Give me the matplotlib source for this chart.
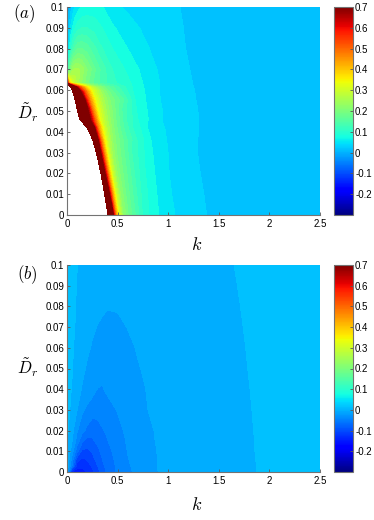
import numpy as np
import matplotlib
matplotlib.use("Agg")
import matplotlib.pyplot as plt
from matplotlib import cm, colors

plt.rcParams['font.family'] = ['Liberation Sans', 'DejaVu Sans']
plt.rcParams['mathtext.fontset'] = 'cm'

# ---------------- data ----------------
x_ticks = [0, 0.5, 1, 1.5, 2, 2.5]
x_tick_labels = ["0", "0.5", "1", "1.5", "2", "2.5"]
y_ticks = [0, 0.01, 0.02, 0.03, 0.04, 0.05, 0.06, 0.07, 0.08, 0.09, 0.1]
y_tick_labels = ["0", "0.01", "0.02", "0.03", "0.04", "0.05", "0.06", "0.07", "0.08", "0.09", "0.1"]
cbar_ticks = [-0.2, -0.1, 0, 0.1, 0.2, 0.3, 0.4, 0.5, 0.6, 0.7]
cbar_tick_labels = ["-0.2", "-0.1", "0", "0.1", "0.2", "0.3", "0.4", "0.5", "0.6", "0.7"]

# panel (a): rows of D_r, the edge of the blank region (k) per row,
# and value samples at distances (in k) from that edge
D_a = [0, 0.01, 0.02, 0.03, 0.036, 0.042, 0.046, 0.051, 0.0555, 0.0595,
       0.0615, 0.0635, 0.07, 0.08, 0.09, 0.1]
edge_a = [0.405, 0.372, 0.335, 0.29, 0.255, 0.2, 0.125, 0.1, 0.08, 0.055,
          0.035, 0.0, 0.0, 0.0, 0.0, 0.0]
offsets_a = [0, 0.02, 0.04, 0.06, 0.08, 0.11, 0.15, 0.2, 0.27, 0.35, 0.45,
             0.6, 0.8, 1.0, 1.3, 1.7, 2.1, 2.6]
V_a = [
    [2.0, 1.2, 0.85, 0.6, 0.45, 0.31, 0.225, 0.185, 0.145, 0.1, 0.073, 0.05, 0.034, 0.0237, 0.017, 0.0135, 0.011, 0.009],
    [2.0, 1.15, 0.75, 0.57, 0.44, 0.31, 0.23, 0.19, 0.15, 0.108, 0.077, 0.05, 0.034, 0.024, 0.017, 0.0135, 0.011, 0.009],
    [2.0, 1.0, 0.68, 0.55, 0.43, 0.31, 0.235, 0.195, 0.158, 0.115, 0.082, 0.051, 0.035, 0.024, 0.017, 0.0135, 0.011, 0.009],
    [2.0, 1.05, 0.7, 0.56, 0.45, 0.33, 0.25, 0.205, 0.168, 0.125, 0.09, 0.055, 0.0365, 0.025, 0.0177, 0.0136, 0.0112, 0.0091],
    [2.0, 1.2, 0.8, 0.62, 0.5, 0.37, 0.28, 0.22, 0.18, 0.14, 0.1, 0.058, 0.038, 0.026, 0.018, 0.0138, 0.0113, 0.0091],
    [2.0, 1.4, 1.0, 0.78, 0.62, 0.46, 0.34, 0.26, 0.2, 0.15, 0.105, 0.064, 0.041, 0.028, 0.019, 0.014, 0.0115, 0.0092],
    [2.0, 1.5, 1.15, 0.95, 0.8, 0.66, 0.5, 0.33, 0.25, 0.19, 0.13, 0.077, 0.046, 0.032, 0.020, 0.0146, 0.012, 0.0096],
    [2.0, 1.5, 1.15, 0.95, 0.8, 0.66, 0.48, 0.34, 0.255, 0.2, 0.14, 0.079, 0.048, 0.033, 0.0205, 0.0147, 0.012, 0.0096],
    [2.0, 1.4, 1.1, 0.9, 0.77, 0.6, 0.45, 0.33, 0.255, 0.2, 0.16, 0.081, 0.048, 0.033, 0.0206, 0.0148, 0.012, 0.0096],
    [2.0, 1.2, 0.9, 0.77, 0.67, 0.55, 0.43, 0.32, 0.25, 0.19, 0.14, 0.084, 0.05, 0.034, 0.021, 0.015, 0.012, 0.0096],
    [2.0, 1.0, 0.8, 0.68, 0.58, 0.48, 0.39, 0.3, 0.23, 0.175, 0.135, 0.087, 0.051, 0.035, 0.021, 0.015, 0.012, 0.0097],
    [0.7, 0.42, 0.34, 0.3, 0.28, 0.25, 0.22, 0.19, 0.16, 0.135, 0.11, 0.09, 0.056, 0.037, 0.022, 0.0155, 0.0124, 0.0099],
    [0.1, 0.16, 0.21, 0.24, 0.25, 0.25, 0.235, 0.205, 0.17, 0.135, 0.105, 0.08, 0.053, 0.035, 0.021, 0.0155, 0.0125, 0.0098],
    [0.03, 0.06, 0.1, 0.13, 0.15, 0.165, 0.165, 0.155, 0.13, 0.105, 0.085, 0.065, 0.046, 0.031, 0.0205, 0.015, 0.012, 0.0096],
    [0.0, 0.025, 0.05, 0.07, 0.085, 0.098, 0.105, 0.105, 0.097, 0.085, 0.068, 0.052, 0.04, 0.03, 0.02, 0.0148, 0.012, 0.0096],
    [-0.02, 0.0, 0.02, 0.035, 0.047, 0.058, 0.066, 0.071, 0.073, 0.066, 0.05, 0.042, 0.034, 0.0285, 0.0195, 0.0145, 0.0118, 0.0095],
]

# panel (b): regular grid
k_b = [0, 0.05, 0.1, 0.15, 0.2, 0.25, 0.3, 0.35, 0.4, 0.5, 0.6, 0.7, 0.8, 0.9, 1.0, 1.2, 1.5, 2.0, 2.5]
D_b = [0, 0.003, 0.006, 0.01, 0.015, 0.02, 0.03, 0.04, 0.05, 0.06, 0.07, 0.08, 0.09, 0.1]
V_b = [
    [-0.005, -0.135, -0.145, -0.142, -0.135, -0.121, -0.103, -0.085, -0.071, -0.052, -0.039, -0.030, -0.022, -0.015, -0.012, -0.006, -0.001, 0.007, 0.012],
    [0.0, -0.055, -0.127, -0.130, -0.122, -0.112, -0.0957, -0.0798, -0.0682, -0.0508, -0.0375, -0.029, -0.0217, -0.0147, -0.0118, -0.0058, -0.0009, 0.007, 0.012],
    [0.003, -0.042, -0.108, -0.119, -0.114, -0.102, -0.089, -0.075, -0.0653, -0.049, -0.0359, -0.0282, -0.021, -0.0145, -0.0116, -0.0057, -0.0007, 0.0071, 0.0121],
    [0.006, -0.027, -0.069, -0.1, -0.1, -0.0926, -0.0805, -0.0702, -0.0612, -0.0467, -0.0344, -0.0272, -0.020, -0.0143, -0.0114, -0.0055, -0.0005, 0.0072, 0.0121],
    [0.008, -0.014, -0.044, -0.070, -0.083, -0.078, -0.0712, -0.0635, -0.0559, -0.0435, -0.0328, -0.0258, -0.0187, -0.0135, -0.0111, -0.0053, -0.0003, 0.0072, 0.0122],
    [0.009, -0.009, -0.0333, -0.049, -0.0606, -0.068, -0.062, -0.0569, -0.0515, -0.040, -0.0312, -0.0243, -0.0175, -0.0133, -0.0108, -0.005, -0.0001, 0.0073, 0.0122],
    [0.01, 0.001, -0.015, -0.0317, -0.0393, -0.0457, -0.049, -0.0447, -0.0411, -0.0341, -0.0277, -0.0214, -0.015, -0.0126, -0.0102, -0.0045, 0.00035, 0.00745, 0.0123],
    [0.01, 0.004, -0.0072, -0.0167, -0.0224, -0.0281, -0.0355, -0.036, -0.0322, -0.0274, -0.0226, -0.0179, -0.0142, -0.0121, -0.0096, -0.004, 0.0008, 0.0076, 0.0124],
    [0.011, 0.0058, -0.0025, -0.0108, -0.0173, -0.0219, -0.0264, -0.031, -0.0288, -0.0244, -0.020, -0.0157, -0.0132, -0.0114, -0.009, -0.0035, 0.00125, 0.0078, 0.0125],
    [0.011, 0.0068, 0.0005, -0.0058, -0.012, -0.0167, -0.020, -0.0233, -0.0246, -0.0209, -0.0172, -0.0142, -0.0124, -0.0107, -0.0084, -0.003, 0.0017, 0.0079, 0.0126],
    [0.0115, 0.0075, 0.003, -0.002, -0.0075, -0.0125, -0.0155, -0.0175, -0.0197, -0.0174, -0.0147, -0.0128, -0.0113, -0.0098, -0.0078, -0.0025, 0.00215, 0.00805, 0.0127],
    [0.012, 0.0078, 0.0038, -0.0005, -0.0045, -0.0085, -0.011, -0.0128, -0.014, -0.014, -0.0128, -0.0116, -0.0103, -0.009, -0.0072, -0.002, 0.0026, 0.0082, 0.0128],
    [0.012, 0.008, 0.0045, 0.001, -0.003, -0.0065, -0.009, -0.0105, -0.0113, -0.0115, -0.011, -0.0101, -0.0092, -0.0082, -0.0066, -0.0015, 0.00305, 0.00835, 0.0129],
    [0.012, 0.0085, 0.0052, 0.002, -0.002, -0.005, -0.0072, -0.0085, -0.0093, -0.0095, -0.0092, -0.0087, -0.0081, -0.0073, -0.006, -0.001, 0.0035, 0.0085, 0.013],
]

# ---------------- figure ----------------
W, H = 374, 520
fig = plt.figure(figsize=(W / 100, H / 100), dpi=100)

def fx(px):
    return px / W

def fy(py):
    return 1 - py / H

ax_a = fig.add_axes([fx(67), fy(215), fx(320) - fx(67), fy(7) - fy(215)])
cax_a = fig.add_axes([fx(334), fy(215), fx(353) - fx(334), fy(7) - fy(215)])
ax_b = fig.add_axes([fx(67), fy(472), fx(320) - fx(67), fy(265) - fy(472)])
cax_b = fig.add_axes([fx(334), fy(472), fx(353) - fx(334), fy(265) - fy(472)])

cmap = plt.get_cmap('jet')
norm = colors.Normalize(vmin=-0.3, vmax=0.7)
levels = np.round(-0.155 + 0.02 * np.arange(44), 3)

# panel (a) on a grid that follows the edge of the blank region
K_a = np.array(edge_a)[:, None] + np.array(offsets_a)[None, :]
DD_a = np.repeat(np.array(D_a)[:, None], len(offsets_a), axis=1)
ax_a.contourf(K_a, DD_a, np.array(V_a), levels=levels, cmap=cmap, norm=norm,
              extend='both', antialiased=False)

ax_b.contourf(np.array(k_b), np.array(D_b), np.array(V_b), levels=levels,
              cmap=cmap, norm=norm, extend='both', antialiased=False)

for ax in (ax_a, ax_b):
    ax.set_xlim(0, 2.5)
    ax.set_ylim(0, 0.1)
    ax.set_xticks(x_ticks)
    ax.set_xticklabels(x_tick_labels)
    ax.set_yticks(y_ticks)
    ax.set_yticklabels(y_tick_labels)
    ax.tick_params(direction='in', length=2.5, width=0.6, labelsize=7,
                   pad=2, color='0.35')
    ax.tick_params(axis='x', pad=3)
    for s in ('top', 'right'):
        ax.spines[s].set_visible(False)
    for s in ('left', 'bottom'):
        ax.spines[s].set_color('0.45')
        ax.spines[s].set_linewidth(0.8)
        ax.spines[s].set_zorder(5)

for cax in (cax_a, cax_b):
    cb = fig.colorbar(cm.ScalarMappable(norm=norm, cmap=cmap), cax=cax)
    cb.set_ticks(cbar_ticks)
    cb.set_ticklabels(cbar_tick_labels)
    cax.tick_params(direction='in', length=2, width=0.6, labelsize=7, pad=1.5,
                    color='0.35')
    cb.outline.set_edgecolor('0.45')
    cb.outline.set_linewidth(0.8)

# labels
fig.text(fx(24), fy(14), r'$(a)$', fontsize=12, ha='center', va='center')
fig.text(fx(27), fy(275), r'$(b)$', fontsize=12, ha='center', va='center')
fig.text(fx(28), fy(113), r'$\tilde{D}_r$', fontsize=12, ha='center', va='center')
fig.text(fx(28), fy(368), r'$\tilde{D}_r$', fontsize=12, ha='center', va='center')
fig.text(fx(197), fy(246), r'$k$', fontsize=13, ha='center', va='center')
fig.text(fx(197), fy(505), r'$k$', fontsize=13, ha='center', va='center')

fig.savefig('out.png', dpi=100)
